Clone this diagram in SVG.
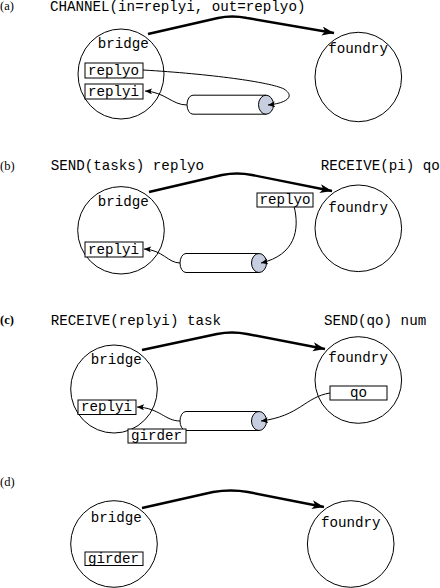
<svg xmlns="http://www.w3.org/2000/svg" width="440" height="588" viewBox="0 0 440 588">
<style>
.lbl{font-family:"Liberation Serif","Times New Roman",serif;font-size:12.5px;fill:#000}
.mono{font-family:"Liberation Mono","Courier New",monospace;font-size:14.2px;fill:#000}
.circ{fill:none;stroke:#000;stroke-width:1}
.box{fill:#fff;stroke:#000;stroke-width:1}
.thick{fill:none;stroke:#000;stroke-width:2.4}
.thin{fill:none;stroke:#000;stroke-width:1}
.cylbody{fill:#fff;stroke:#000;stroke-width:1}
.cylend{fill:#c6cee0;stroke:#000;stroke-width:1}
</style>
<defs>
<marker id="bigArrow" markerUnits="userSpaceOnUse" markerWidth="14" markerHeight="10" refX="12" refY="4.5" orient="auto">
<path d="M0,0 L12,4.5 L0,9 L3,4.5 z" fill="#000"/>
</marker>
<marker id="smallArrow" markerUnits="userSpaceOnUse" markerWidth="9" markerHeight="7" refX="7" refY="3" orient="auto">
<path d="M0,0 L7,3 L0,6 L1.5,3 z" fill="#000"/>
</marker>
<g id="cylShape">
<path class="cylbody" d="M0,-9.5 L73,-9.5 L73,9.5 L0,9.5 A6,9.5 0 0 1 0,-9.5 z"/>
<ellipse class="cylend" cx="73" cy="0" rx="7.5" ry="9.5"/>
</g>
</defs>
<rect x="0" y="0" width="440" height="588" fill="#fff"/>

<!-- panel labels and titles -->
<g id="titles">
<text class="lbl" x="0" y="10">(a)</text>
<text class="mono" x="50" y="11">CHANNEL(in=replyi, out=replyo)</text>
<text class="lbl" x="0" y="170">(b)</text>
<text class="mono" x="50.7" y="169.5">SEND(tasks) replyo</text>
<text class="mono" x="320.7" y="169.5">RECEIVE(pi) qo</text>
<text class="lbl" x="0" y="324" font-weight="bold">(c)</text>
<text class="mono" x="50.7" y="325">RECEIVE(replyi) task</text>
<text class="mono" x="324" y="325">SEND(qo) num</text>
<text class="lbl" x="0" y="486">(d)</text>
</g>

<!-- panel a -->
<g id="a-bridge">
<ellipse class="circ" cx="121" cy="74" rx="43" ry="45"/>
<text class="mono" x="97.7" y="47.7">bridge</text>
</g>
<g id="a-foundry">
<ellipse class="circ" cx="358.3" cy="77" rx="43.3" ry="44.7"/>
<text class="mono" x="328.3" y="53.3">foundry</text>
</g>
<g id="a-channel"><use href="#cylShape" transform="translate(193,104.7)"/></g>

<!-- panel b -->
<g id="b-bridge">
<ellipse class="circ" cx="121" cy="230.3" rx="43.3" ry="43.7"/>
<text class="mono" x="97.7" y="206">bridge</text>
</g>
<g id="b-foundry">
<ellipse class="circ" cx="358.3" cy="228.3" rx="43.3" ry="43.3"/>
<text class="mono" x="328.3" y="211.7">foundry</text>
</g>
<g id="b-channel"><use href="#cylShape" transform="translate(186,263)"/></g>

<!-- panel c -->
<g id="c-bridge">
<ellipse class="circ" cx="114" cy="389" rx="43.3" ry="44"/>
<text class="mono" x="90.7" y="364">bridge</text>
</g>
<g id="c-foundry">
<ellipse class="circ" cx="358.3" cy="380" rx="43.3" ry="43.3"/>
<text class="mono" x="328.3" y="361.7">foundry</text>
</g>
<g id="c-channel"><use href="#cylShape" transform="translate(186,421)"/></g>

<!-- panel d -->
<g id="d-bridge">
<ellipse class="circ" cx="114" cy="544" rx="43.3" ry="43.3"/>
<text class="mono" x="90.7" y="522.3">bridge</text>
</g>
<g id="d-foundry">
<ellipse class="circ" cx="350.7" cy="544" rx="43.3" ry="43.3"/>
<text class="mono" x="321" y="526.7">foundry</text>
</g>

<!-- connectors -->
<g id="connectors">
<path class="thick" d="M148,34 L218,18 Q232,15 247,18 L334,33" marker-end="url(#bigArrow)"/>
<path class="thin" d="M143,70 C210,74 270,82 284,89 C295,96 288,103 268,105" marker-end="url(#smallArrow)"/>
<path class="thin" d="M187,105 C172,105 165,92 145,91" marker-end="url(#smallArrow)"/>

<path class="thick" d="M149,192 L222,175 Q237,172 252,175 L332,191" marker-end="url(#bigArrow)"/>
<path class="thin" d="M294,206 C300,230 295,255 261,263" marker-end="url(#smallArrow)"/>
<path class="thin" d="M180,263 C168,263 163,250 144,249" marker-end="url(#smallArrow)"/>

<path class="thick" d="M142,350 L217,334 Q232,331 247,334 L325,349" marker-end="url(#bigArrow)"/>
<path class="thin" d="M330,393 C305,397 300,416 261,421" marker-end="url(#smallArrow)"/>
<path class="thin" d="M180,421 C165,421 160,408 137,407" marker-end="url(#smallArrow)"/>

<path class="thick" d="M142,508 L213,492 Q231,489 248,492 L324,507" marker-end="url(#bigArrow)"/>
</g>

<!-- ports / boxes -->
<g id="a-replyo"><rect class="box" x="85" y="63" width="58" height="15"/><text class="mono" x="88" y="74.5">replyo</text></g>
<g id="a-replyi"><rect class="box" x="85" y="84" width="58" height="15"/><text class="mono" x="88" y="95.5">replyi</text></g>
<g id="b-replyo"><rect class="box" x="257" y="193" width="56" height="14"/><text class="mono" x="259.5" y="203.5">replyo</text></g>
<g id="b-replyi"><rect class="box" x="85" y="242" width="58" height="15"/><text class="mono" x="88" y="253.5">replyi</text></g>
<g id="c-qo"><rect class="box" x="330" y="386" width="57" height="14"/><text class="mono" x="358.5" y="397" text-anchor="middle">qo</text></g>
<g id="c-replyi"><rect class="box" x="78" y="400" width="58" height="14.5"/><text class="mono" x="81" y="411">replyi</text></g>
<g id="c-girder"><rect class="box" x="128" y="429" width="58" height="14"/><text class="mono" x="131" y="440">girder</text></g>
<g id="d-girder"><rect class="box" x="85" y="552" width="58" height="13.5"/><text class="mono" x="88" y="562.5">girder</text></g>
</svg>
